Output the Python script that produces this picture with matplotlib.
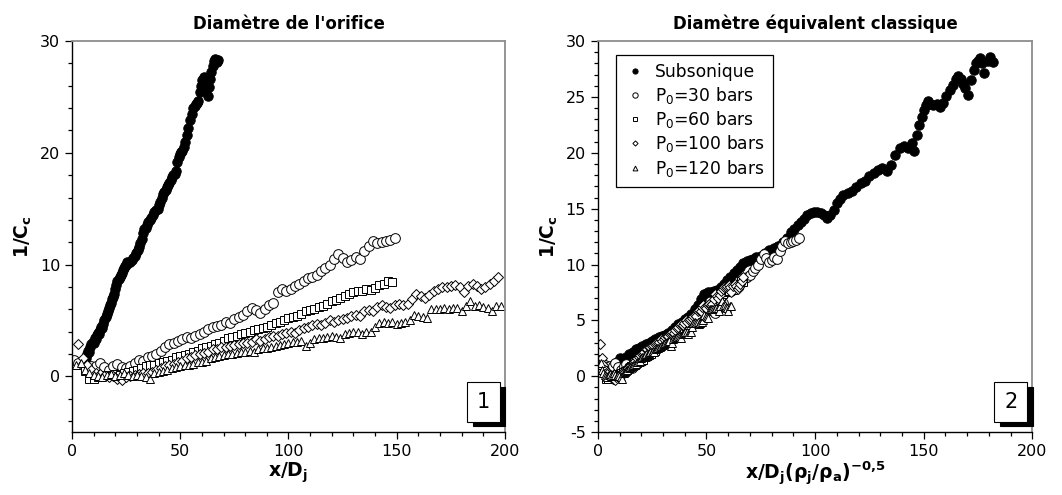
import matplotlib
matplotlib.use('Agg')
import matplotlib.pyplot as plt
from matplotlib.patches import Rectangle
from matplotlib.ticker import MultipleLocator

plt.rcParams['font.family'] = ['DejaVu Sans']
plt.rcParams['axes.unicode_minus'] = False
plt.rcParams['mathtext.fontset'] = 'dejavusans'

# ---- panel 1 : x/Dj ----
sub_x = [6.5, 7.0, 7.5, 8.0, 8.5, 9.0, 9.5, 10.0, 10.5, 11.0,
         11.5, 12.0, 12.5, 13.0, 13.5, 14.0, 14.5, 15.0, 15.5, 16.0,
         16.5, 17.0, 17.5, 18.0, 18.5, 19.0, 19.5, 20.0, 20.5, 21.0,
         21.5, 22.0, 22.5, 23.0, 23.5, 24.0, 24.5, 25.0, 25.5, 26.0,
         26.8, 27.5, 28.3, 29.0, 29.7, 30.4, 31.0, 31.6, 32.2, 32.8,
         33.4, 34.0, 34.6, 35.3, 36.0, 36.7, 37.4, 38.1, 38.8, 39.5,
         40.2, 40.8, 41.4, 42.0, 42.6, 43.2, 43.8, 44.4, 45.0, 45.6,
         46.2, 46.8, 47.4, 48.0, 48.6, 49.2, 49.8, 50.4, 51.0, 51.6,
         52.2, 53.0, 53.8, 54.6, 55.4, 56.0, 56.6, 57.2, 57.8, 58.4,
         59.0, 59.6, 60.2, 60.8, 61.4, 62.0, 62.6, 63.2, 63.8, 64.4,
         65.0, 65.6, 66.2, 66.8, 67.3]
sub_y = [1.6, 2.0, 2.3, 2.2, 2.6, 2.9, 3.1, 3.0, 3.4, 3.3,
         3.7, 3.9, 3.8, 4.1, 4.4, 4.3, 4.7, 5.0, 5.3, 5.6,
         5.8, 6.1, 6.4, 6.6, 6.9, 7.1, 7.4, 7.8, 8.2, 8.5,
         8.7, 8.9, 9.1, 9.2, 9.5, 9.7, 9.9, 10.0, 10.2, 10.1,
         10.2, 10.4, 10.6, 10.8, 11.0, 11.3, 11.6, 11.9, 12.3, 12.8,
         13.2, 13.3, 13.5, 13.8, 14.0, 14.2, 14.4, 14.7, 14.9, 15.0,
         15.3, 15.6, 16.0, 16.3, 16.5, 16.7, 16.9, 17.1, 17.3, 17.6,
         17.8, 18.0, 18.1, 18.4, 19.2, 19.6, 19.9, 20.1, 20.2, 20.5,
         21.0, 21.6, 22.2, 22.9, 23.5, 24.0, 24.2, 24.4, 24.5, 24.6,
         25.4, 26.0, 26.5, 26.8, 26.2, 25.6, 25.1, 25.9, 26.6, 27.2,
         27.8, 28.2, 28.4, 28.1, 28.3]

p30_x = [1, 3, 5, 7, 9, 11, 13, 15, 17, 19,
         21, 23, 25, 27, 29, 31, 33, 35, 37, 39,
         41, 43, 45, 47, 49, 51, 53, 55, 57, 59,
         61, 63, 65, 67, 69, 71, 73, 75, 77, 79,
         81, 83, 85, 87, 89, 91, 93, 95, 97, 99,
         101, 103, 105, 107, 109, 111, 113, 115, 117, 119,
         121, 123, 125, 127, 129, 131, 133, 135, 137, 139,
         141, 143, 145, 147, 149]
p30_y = [1.5, 1.2, 1.0, 0.8, 0.9, 0.9, 1.2, 0.8, 0.6, 0.9,
         1.1, 0.8, 0.7, 0.9, 1.2, 1.5, 1.4, 1.7, 1.8, 2.0,
         2.3, 2.6, 2.9, 3.0, 3.2, 3.3, 3.5, 3.4, 3.6, 3.8,
         4.0, 4.2, 4.4, 4.5, 4.6, 4.9, 4.8, 5.1, 5.3, 5.5,
         5.8, 6.1, 5.9, 5.7, 6.0, 6.4, 6.6, 7.5, 7.8, 7.6,
         7.8, 8.1, 8.3, 8.5, 8.8, 8.9, 9.1, 9.4, 9.7, 10.0,
         10.5, 10.9, 10.6, 10.2, 10.4, 10.7, 10.5, 11.2, 11.7, 12.1,
         11.9, 12.0, 12.1, 12.2, 12.4]

p60_x = [6, 8, 10, 12, 14, 16, 18, 20, 22, 24,
         26, 28, 30, 32, 34, 36, 38, 40, 42, 44,
         46, 48, 50, 52, 54, 56, 58, 60, 62, 64,
         66, 68, 70, 72, 74, 76, 78, 80, 82, 84,
         86, 88, 90, 92, 94, 96, 98, 100, 102, 104,
         106, 108, 110, 112, 114, 116, 118, 120, 122, 124,
         126, 128, 130, 132, 134, 136, 138, 140, 142, 144,
         146, 148]
p60_y = [0.5, -0.2, -0.2, -0.1, 0.0, 0.1, 0.0, 0.2, 0.1, 0.3,
         0.4, 0.5, 0.6, 0.7, 0.9, 1.0, 1.0, 1.2, 1.3, 1.4,
         1.5, 1.7, 1.8, 1.9, 2.0, 2.2, 2.3, 2.5, 2.6, 2.7,
         2.9, 3.0, 3.2, 3.4, 3.5, 3.6, 3.8, 3.9, 4.0, 4.1,
         4.2, 4.3, 4.4, 4.6, 4.8, 4.9, 5.0, 5.2, 5.3, 5.4,
         5.6, 5.8, 5.9, 6.0, 6.2, 6.3, 6.5, 6.7, 6.8, 7.0,
         7.2, 7.4, 7.5, 7.6, 7.6, 7.8, 7.7, 7.9, 8.2, 8.3,
         8.5, 8.4]

p100_x = [3, 5, 7, 9, 11, 13, 15, 17, 19, 21,
          23, 25, 27, 29, 31, 33, 35, 37, 39, 41,
          43, 45, 47, 49, 51, 53, 55, 57, 59, 61,
          63, 65, 67, 69, 71, 73, 75, 77, 79, 81,
          83, 85, 87, 89, 91, 93, 95, 97, 99, 101,
          103, 105, 107, 109, 111, 113, 115, 117, 119, 121,
          123, 125, 127, 129, 131, 133, 135, 137, 139, 141,
          143, 145, 147, 149, 151, 153, 155, 157, 159, 161,
          163, 165, 167, 169, 171, 173, 175, 177, 179, 181,
          183, 185, 187, 189, 191, 193, 195, 197]
p100_y = [2.9, 1.6, 1.0, 0.6, 0.3, 0.2, 0.0, -0.1, 0.0, -0.2,
          -0.3, -0.1, 0.0, 0.1, 0.2, 0.3, 0.3, 0.4, 0.6, 0.7,
          0.9, 1.0, 1.1, 1.3, 1.4, 1.6, 1.7, 1.9, 2.0, 2.1,
          2.2, 2.4, 2.4, 2.6, 2.6, 2.7, 2.8, 2.9, 3.0, 3.0,
          3.1, 3.3, 3.2, 3.3, 3.5, 3.6, 3.6, 3.8, 3.9, 4.0,
          3.9, 4.1, 4.3, 4.4, 4.6, 4.7, 4.6, 4.8, 5.0, 4.9,
          5.0, 5.1, 5.2, 5.4, 5.5, 5.4, 5.8, 5.9, 5.8, 6.2,
          6.4, 6.2, 6.1, 6.4, 6.5, 6.4, 6.5, 6.9, 7.4, 7.2,
          7.0, 7.3, 7.6, 7.8, 8.0, 8.0, 8.1, 8.2, 8.0, 7.5,
          8.1, 8.3, 8.1, 7.8, 8.0, 8.3, 8.5, 8.9]

p120_x = [2, 4, 6, 8, 10, 12, 14, 16, 18, 20,
          22, 24, 26, 28, 30, 32, 34, 36, 38, 40,
          42, 44, 46, 48, 50, 52, 54, 56, 58, 60,
          62, 64, 66, 68, 70, 72, 74, 76, 78, 80,
          82, 84, 86, 88, 90, 92, 94, 96, 98, 100,
          102, 104, 106, 108, 110, 112, 114, 116, 118, 120,
          122, 124, 126, 128, 130, 132, 134, 136, 138, 140,
          142, 144, 146, 148, 150, 152, 154, 156, 158, 160,
          162, 164, 166, 168, 170, 172, 174, 176, 178, 180,
          182, 184, 186, 188, 190, 192, 194, 196, 198]
p120_y = [1.0, 1.2, 0.6, 0.3, 0.1, 0.0, -0.1, 0.1, 0.2, 0.0,
          0.1, 0.3, 0.1, 0.0, 0.1, 0.0, -0.1, -0.2, 0.3, 0.4,
          0.5, 0.6, 0.7, 0.8, 0.9, 1.0, 1.0, 1.1, 1.3, 1.3,
          1.4, 1.6, 1.7, 1.8, 1.9, 2.0, 2.0, 2.1, 2.2, 2.2,
          2.3, 2.2, 2.4, 2.5, 2.5, 2.6, 2.7, 2.8, 2.9, 3.0,
          3.1, 3.1, 3.2, 2.7, 3.0, 3.3, 3.4, 3.4, 3.5, 3.6,
          3.5, 3.4, 3.8, 3.9, 4.0, 4.0, 3.8, 4.0, 4.0, 4.4,
          4.8, 4.9, 4.8, 4.9, 4.7, 4.8, 4.9, 5.0, 5.5, 5.4,
          5.3, 5.2, 6.0, 6.0, 6.0, 6.1, 6.0, 6.1, 6.1, 5.8,
          6.3, 6.7, 6.3, 6.4, 6.2, 6.1, 5.8, 6.3, 6.3]

# ---- panel 2 : x/Dj (rho_j/rho_a)^-0.5 ----
sub2_x = [2.0, 3.5, 5.0, 6.5, 8.0, 9.0, 10.0, 11.5, 13.0, 14.5,
          16.0, 17.5, 19.0, 20.5, 22.0, 23.5, 25.0, 26.5, 28.0, 29.5,
          31.0, 32.5, 34.0, 35.5, 37.0, 38.5, 40.0, 41.5, 43.0, 44.5,
          46.0, 47.5, 49.0, 50.5, 52.0, 53.5, 55.0, 56.5, 58.0, 59.5,
          61.0, 62.5, 64.0, 65.5, 67.0, 68.5, 70.0, 71.5, 73.0, 75.0,
          77.0, 79.0, 81.0, 83.0, 85.0, 87.0, 89.0, 90.5, 92.0, 93.5,
          95.0, 96.5, 98.0, 99.5, 101.0, 102.5, 104.0, 105.5, 107.0, 108.5,
          110.0, 111.5, 113.0, 115.0, 117.0, 119.0, 121.0, 123.0, 125.0, 127.0,
          129.0, 131.0, 133.0, 135.0, 137.0, 139.0, 141.0, 143.0, 144.5, 145.5,
          147.0, 148.0, 149.0, 150.0, 151.0, 152.0, 153.0, 154.5, 156.0, 157.6,
          159.0, 160.5, 162.0, 163.5, 165.0, 166.0, 167.0, 168.0, 169.0, 170.5,
          172.0, 173.0, 174.0, 175.0, 176.0, 177.0, 178.0, 179.5, 180.6, 182.0]
sub2_y = [1.2, 0.7, 0.4, 0.6, 1.0, 1.3, 1.6, 1.4, 1.7, 2.0,
          2.2, 2.4, 2.5, 2.7, 2.9, 3.0, 3.2, 3.3, 3.5, 3.6,
          3.7, 3.9, 4.1, 4.4, 4.7, 4.9, 5.1, 5.3, 5.6, 6.0,
          6.4, 6.9, 7.4, 7.5, 7.5, 7.6, 7.7, 8.0, 8.3, 8.6,
          8.9, 9.2, 9.5, 9.8, 10.1, 10.3, 10.4, 10.5, 10.7, 10.8,
          11.0, 11.3, 11.5, 11.7, 12.0, 12.4, 12.9, 13.2, 13.5, 13.8,
          14.1, 14.4, 14.6, 14.7, 14.7, 14.6, 14.4, 14.2, 14.4, 14.9,
          15.5, 15.9, 16.2, 16.4, 16.6, 16.9, 17.3, 17.5, 17.9, 18.2,
          18.5, 18.6, 18.4, 18.9, 19.8, 20.4, 20.6, 20.4, 20.9, 20.2,
          21.6, 22.5, 23.2, 23.8, 24.3, 24.6, 24.4, 24.3, 24.4, 24.1,
          24.5, 25.1, 25.6, 26.1, 26.6, 26.9, 26.6, 26.2, 25.8, 25.2,
          26.5, 27.4, 28.0, 28.2, 28.5, 28.0, 27.1, 28.2, 28.6, 28.1]

p30_x2 = [0.6, 1.9, 3.1, 4.3, 5.6, 6.8, 8.1, 9.3, 10.5, 11.8,
          13.0, 14.3, 15.5, 16.7, 18.0, 19.2, 20.5, 21.7, 22.9, 24.2,
          25.4, 26.7, 27.9, 29.1, 30.4, 31.6, 32.9, 34.1, 35.3, 36.6,
          37.8, 39.1, 40.3, 41.5, 42.8, 44.0, 45.3, 46.5, 47.7, 49.0,
          50.2, 51.5, 52.7, 53.9, 55.2, 56.4, 57.7, 58.9, 60.1, 61.4,
          62.6, 63.9, 65.1, 66.3, 67.6, 68.8, 70.1, 71.3, 72.5, 73.8,
          75.0, 76.3, 77.5, 78.7, 80.0, 81.2, 82.5, 83.7, 84.9, 86.2,
          87.4, 88.7, 89.9, 91.1, 92.4]
p60_x2 = [2.7, 3.6, 4.5, 5.4, 6.3, 7.2, 8.1, 9.0, 9.9, 10.8,
          11.7, 12.6, 13.5, 14.4, 15.3, 16.2, 17.1, 18.0, 18.9, 19.8,
          20.7, 21.6, 22.5, 23.4, 24.3, 25.2, 26.1, 27.0, 27.9, 28.8,
          29.7, 30.6, 31.5, 32.4, 33.3, 34.2, 35.1, 36.0, 36.9, 37.8,
          38.7, 39.6, 40.5, 41.4, 42.3, 43.2, 44.1, 45.0, 45.9, 46.8,
          47.7, 48.6, 49.5, 50.4, 51.3, 52.2, 53.1, 54.0, 54.9, 55.8,
          56.7, 57.6, 58.5, 59.4, 60.3, 61.2, 62.1, 63.0, 63.9, 64.8,
          65.7, 66.6]
p100_x2 = [1.0, 1.7, 2.4, 3.1, 3.7, 4.4, 5.1, 5.8, 6.5, 7.1,
           7.8, 8.5, 9.2, 9.9, 10.5, 11.2, 11.9, 12.6, 13.3, 13.9,
           14.6, 15.3, 16.0, 16.7, 17.3, 18.0, 18.7, 19.4, 20.1, 20.7,
           21.4, 22.1, 22.8, 23.5, 24.1, 24.8, 25.5, 26.2, 26.9, 27.5,
           28.2, 28.9, 29.6, 30.3, 30.9, 31.6, 32.3, 33.0, 33.7, 34.3,
           35.0, 35.7, 36.4, 37.1, 37.7, 38.4, 39.1, 39.8, 40.5, 41.1,
           41.8, 42.5, 43.2, 43.9, 44.5, 45.2, 45.9, 46.6, 47.3, 47.9,
           48.6, 49.3, 50.0, 50.7, 51.3, 52.0, 52.7, 53.4, 54.1, 54.7,
           55.4, 56.1, 56.8, 57.5, 58.1, 58.8, 59.5, 60.2, 60.9, 61.5,
           62.2, 62.9, 63.6, 64.3, 64.9, 65.6, 66.3, 67.0]
p120_x2 = [0.6, 1.2, 1.9, 2.5, 3.1, 3.7, 4.3, 5.0, 5.6, 6.2,
           6.8, 7.4, 8.1, 8.7, 9.3, 9.9, 10.5, 11.2, 11.8, 12.4,
           13.0, 13.6, 14.3, 14.9, 15.5, 16.1, 16.7, 17.4, 18.0, 18.6,
           19.2, 19.8, 20.5, 21.1, 21.7, 22.3, 22.9, 23.6, 24.2, 24.8,
           25.4, 26.0, 26.7, 27.3, 27.9, 28.5, 29.1, 29.8, 30.4, 31.0,
           31.6, 32.2, 32.9, 33.5, 34.1, 34.7, 35.3, 36.0, 36.6, 37.2,
           37.8, 38.4, 39.1, 39.7, 40.3, 40.9, 41.5, 42.2, 42.8, 43.4,
           44.0, 44.6, 45.3, 45.9, 46.5, 47.1, 47.7, 48.4, 49.0, 49.6,
           50.2, 50.8, 51.5, 52.1, 52.7, 53.3, 53.9, 54.6, 55.2, 55.8,
           56.4, 57.0, 57.7, 58.3, 58.9, 59.5, 60.1, 60.8, 61.4]

labels = ['Subsonique', r'P$_\mathregular{0}$=30 bars', r'P$_\mathregular{0}$=60 bars',
          r'P$_\mathregular{0}$=100 bars', r'P$_\mathregular{0}$=120 bars']
titles = ["Diamètre de l'orifice", 'Diamètre équivalent classique']
xlabels = [r'$\mathbf{x/D_j}$', r'$\mathbf{x/D_j(\rho_j/\rho_a)^{-0{,}5}}$']
ylabel = r'$\mathbf{1/C_c}$'


class style:
    ticks_size = 11.5
    label_size = 13.5
    title_size = 12
    spine_grey = '#8c8c8c'


def draw_panel(ax, series, num, title, xlabel, yminor):
    marks = [('o', 6.8, 'k'), ('o', 7.0, 'w'), ('s', 6.0, 'w'), ('D', 4.8, 'w'), ('^', 6.3, 'w')]
    for (x, y), (m, ms, fc), lab in zip(series, marks, labels):
        ax.plot(x, y, ls='none', marker=m, ms=ms, mfc=fc, mec='k', mew=0.7, label=lab)
    ax.set_xlim(0, 200)
    ax.set_ylim(-5, 30)
    ax.xaxis.set_major_locator(MultipleLocator(50))
    ax.xaxis.set_minor_locator(MultipleLocator(10))
    ax.yaxis.set_minor_locator(MultipleLocator(yminor))
    ax.tick_params(which='both', direction='out', top=False, right=False,
                   labelsize=style.ticks_size, width=0.9)
    ax.tick_params(which='major', length=5)
    ax.tick_params(which='minor', length=3)
    for s in ['top', 'right']:
        ax.spines[s].set_color(style.spine_grey)
        ax.spines[s].set_linewidth(1.3)
    for s in ['left', 'bottom']:
        ax.spines[s].set_linewidth(1.0)
    ax.set_title(title, fontsize=style.title_size, fontweight='bold', pad=9)
    ax.set_xlabel(xlabel, fontsize=style.label_size, labelpad=1)
    ax.set_ylabel(ylabel, fontsize=style.label_size, labelpad=4)
    # numbered box with drop shadow
    ax.add_patch(Rectangle((0.925, 0.015), 0.076, 0.1, transform=ax.transAxes,
                           fc='k', ec='k', lw=0.8, clip_on=False, zorder=5))
    ax.add_patch(Rectangle((0.913, 0.027), 0.076, 0.1, transform=ax.transAxes,
                           fc='w', ec='k', lw=0.8, clip_on=False, zorder=6))
    ax.text(0.951, 0.077, str(num), transform=ax.transAxes, ha='center', va='center',
            fontsize=15, zorder=7)


fig = plt.figure(figsize=(10.62, 4.95), dpi=100)
ax1 = fig.add_axes([0.0678, 0.127, 0.4077, 0.79])
ax2 = fig.add_axes([0.563, 0.127, 0.409, 0.79])

draw_panel(ax1, [(sub_x, sub_y), (p30_x, p30_y), (p60_x, p60_y), (p100_x, p100_y), (p120_x, p120_y)],
           1, titles[0], xlabels[0], 2)
ax1.yaxis.set_major_locator(MultipleLocator(10))

draw_panel(ax2, [(sub2_x, sub2_y), (p30_x2, p30_y), (p60_x2, p60_y), (p100_x2, p100_y), (p120_x2, p120_y)],
           2, titles[1], xlabels[1], 1)
ax2.yaxis.set_major_locator(MultipleLocator(5))

leg = ax2.legend(loc='upper left', bbox_to_anchor=(0.022, 0.985), fontsize=12.3,
                 markerscale=0.55, fancybox=False, edgecolor='k', framealpha=1,
                 handlelength=1.3, handletextpad=0.55, borderpad=0.45, labelspacing=0.2)
leg.get_frame().set_linewidth(0.9)

fig.savefig('out.png', dpi=100)
